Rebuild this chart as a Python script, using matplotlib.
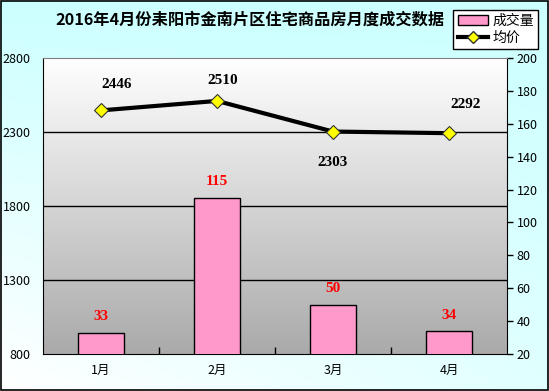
import numpy as np
import matplotlib
matplotlib.use('Agg')
import matplotlib.pyplot as plt
from matplotlib.colors import LinearSegmentedColormap
from matplotlib.patches import Patch, Rectangle
from matplotlib.lines import Line2D

plt.rcParams['font.family'] = ['Noto Sans CJK SC', 'DejaVu Sans']

# données
months = ['1月', '2月', '3月', '4月']
volume = [33, 115, 50, 34]          # 成交量 (axe droit)
price = [2446, 2510, 2303, 2292]    # 均价 (axe gauche)
price_ticks = [800, 1300, 1800, 2300, 2800]
volume_ticks = list(range(20, 201, 20))
title = '2016年4月份耒阳市金南片区住宅商品房月度成交数据'

fig = plt.figure(figsize=(5.49, 3.91), dpi=100)

# fond de la figure : cyan clair -> blanc
bg = fig.add_axes([0, 0, 1, 1], zorder=-10)
yy, xx = np.mgrid[0:1:200j, 0:1:200j]   # yy=0 en haut
amt = np.clip(1 - yy * (1 - 0.6 * xx), 0, 1)
img = np.ones((200, 200, 3))
img[..., 0] = 1 - amt * (1 - 204 / 255)
bg.imshow(img, extent=[0, 1, 0, 1], aspect='auto', origin='upper')
bg.set_axis_off()
bg.add_patch(Rectangle((0.001, 0.002), 0.997, 0.996, transform=bg.transAxes,
                       fill=False, edgecolor='black', lw=1.2))

left, right, top, bottom = 43 / 549, 507 / 549, 1 - 58 / 391, 1 - 354 / 391
ax = fig.add_axes([left, bottom, right - left, top - bottom])
x = np.arange(len(months))
ax.set_xlim(-0.5, len(months) - 0.5)
ax.set_ylim(volume_ticks[0], volume_ticks[-1])

# dégradé de la zone de tracé
cmap = LinearSegmentedColormap.from_list('g', ['#ffffff', '#aaaaaa'])
grad = np.linspace(0, 1, 256).reshape(-1, 1)
ax.imshow(grad, cmap=cmap, extent=[-0.5, len(months) - 0.5, volume_ticks[0], volume_ticks[-1]],
          aspect='auto', origin='upper', zorder=0)

# grille (valeurs de l'axe gauche)
for v in price_ticks[1:-1]:
    f = (v - price_ticks[0]) / (price_ticks[-1] - price_ticks[0])
    ax.plot([0, 1], [f, f], transform=ax.transAxes, color='black', lw=1, zorder=1)

bars = ax.bar(x, volume, width=0.405, color='#ff99cc', edgecolor='black', lw=1, zorder=3)
for xi, v in zip(x, volume):
    ax.annotate(str(v), (xi, v), xytext=(0, 11.5), textcoords='offset points',
                ha='center', va='center', color='red', fontsize=11,
                family='Liberation Serif', fontweight='bold', zorder=5)

ax.set_yticks(volume_ticks)
ax.set_xticks(x, months)
ax.tick_params(axis='x', length=0, labelsize=9, pad=7)
ax.set_xticks(x[:-1] + 0.5, minor=True)
ax.tick_params(axis='x', which='minor', direction='in', length=5, width=1)
for s in ['left', 'bottom', 'right']:
    ax.spines[s].set_color('black')
ax.spines['top'].set_color('#808080')

ax2 = ax.twinx()
ax.yaxis.tick_right()
ax.tick_params(axis='y', direction='out', length=4, width=1, labelsize=9, pad=3)
ax2.yaxis.tick_left()
ax2.set_ylim(price_ticks[0], price_ticks[-1])
ax2.set_yticks(price_ticks)
ax2.tick_params(axis='y', length=0, labelsize=9, pad=9)
ax2.plot(x, price, color='black', lw=3, marker='D', markersize=7,
         markerfacecolor='#ffff00', markeredgecolor='#333333', markeredgewidth=0.8, zorder=4)
offsets = [(11, 19), (4, 15), (0, -22), (12, 21)]
for xi, v, off in zip(x, price, offsets):
    ax2.annotate(str(v), (xi, v), xytext=off, textcoords='offset points',
                 ha='center', va='center', color='black', fontsize=11,
                 family='Liberation Serif', fontweight='bold')
for s in ax2.spines.values():
    s.set_visible(False)

fig.text(250 / 549, 1 - 20 / 391, title, ha='center', va='center',
         fontsize=11.7, fontweight='bold')

handles = [Patch(facecolor='#ff99cc', edgecolor='black', lw=1),
           Line2D([], [], color='black', lw=3, marker='D', markersize=6,
                  markerfacecolor='#ffff00', markeredgecolor='#333333')]
leg = fig.legend(handles, ['成交量', '均价'], loc='upper right',
                 bbox_to_anchor=(545 / 549, 1 - 3 / 391), fontsize=10,
                 fancybox=False, framealpha=1, edgecolor='black',
                 handlelength=2.2, handletextpad=0.3, borderpad=0.3, labelspacing=0.2)
leg.get_frame().set_linewidth(1)

fig.savefig('out.png', dpi=100)
